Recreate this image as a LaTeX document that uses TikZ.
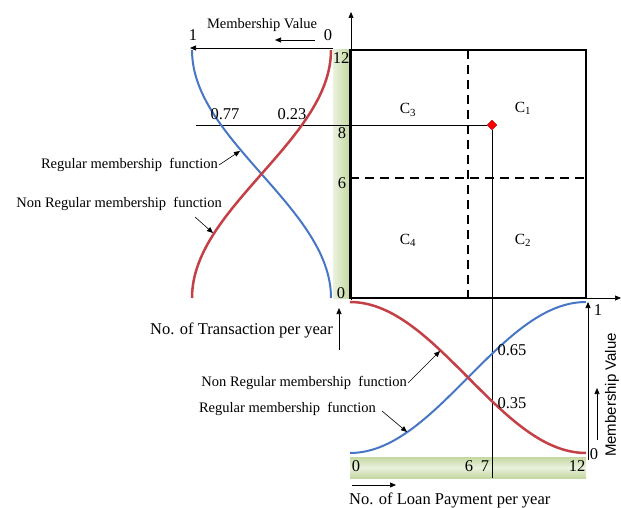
\documentclass[tikz,border=0pt]{standalone}
\usepackage{fontspec}
\setmainfont{Liberation Serif}
\setsansfont{Liberation Sans}
\usetikzlibrary{arrows.meta,shapes.geometric}
\definecolor{mfblue}{RGB}{70,118,196}
\definecolor{mfred}{RGB}{196,64,70}
\definecolor{band}{RGB}{196,216,160}

\begin{document}
\begin{tikzpicture}[x=1pt, y=-1pt, font=\fontsize{16.5}{18}\selectfont,
  >={Triangle[length=6pt,width=5pt]},
  num/.style={inner sep=1pt},
  lbl/.style={font=\fontsize{14.5}{16}\selectfont, inner sep=1pt},
  cls/.style={font=\fontsize{15.5}{17}\selectfont, inner sep=1pt},
  mfb/.style={mfblue, line width=2pt},
  mfr/.style={mfred, line width=2.5pt},
  gridline/.style={line width=2.6pt, dash pattern=on 9pt off 6pt},
  ptr/.style={->, line width=0.6pt}]
  \useasboundingbox (0,0) rectangle (621,508);

  % corner points of the square
  \coordinate (o) at (350,298);
  \coordinate (tl) at (350,50);
  \coordinate (br) at (586,298);
  \coordinate (tr) at (586,50);

  % green scales
  \shade[left color=band!35, right color=band] (333,50) rectangle (350,298);
  \shade[top color=band, bottom color=band, middle color=band!35] (350,457) rectangle (586,478);

  % axes
  \coordinate (ytop) at (351,12);
  \coordinate (xend) at (621,298);
  \draw[->, line width=0.7pt] (351,300) -- (ytop);
  \draw[->, line width=0.7pt] (o) -- (xend);
  \draw[line width=2.8pt] (o) rectangle (tr);

  % quadrant borders
  \draw[gridline] (468,50) -- (468,298);
  \draw[gridline] (350,178) -- (586,178);

  % example point (7,8)
  \node[diamond, fill=red, draw=red!70!black, line width=0.3pt, minimum size=10pt, inner sep=0pt] (pt) at (492,125) {};
  \coordinate (hstart) at (196,125);
  \coordinate (vend) at (492,478);
  \draw[line width=0.6pt] (hstart) -- (pt);
  \draw[line width=0.6pt] (pt) -- (vend);

  \node[cls] (c3) at (408,110) {C\textsubscript{3}};
  \node[cls] (c1) at (523,108) {C\textsubscript{1}};
  \node[cls] (c4) at (408,240) {C\textsubscript{4}};
  \node[cls] (c2) at (523,240) {C\textsubscript{2}};

  % left membership functions
  \draw[mfb] plot[domain=0:1, samples=60, smooth] ({331-139*(1-cos(180*\x))/2}, {298-248*\x});
  \draw[mfr] plot[domain=0:1, samples=60, smooth] ({331-139*(1+cos(180*\x))/2}, {298-248*\x});

  % bottom membership functions
  \draw[mfb] plot[domain=0:1, samples=60, smooth] ({350+236*\x}, {453-151*(1-cos(180*\x))/2});
  \draw[mfr] plot[domain=0:1, samples=60, smooth] ({350+236*\x}, {453-151*(1+cos(180*\x))/2});

  % membership axis top
  \coordinate (mt0) at (333,48);
  \coordinate (mt1) at (190,48);
  \draw[->, line width=0.7pt] (mt0) -- (mt1);
  \node[num] (one1) at (193,35) {1};
  \node[num] (zero1) at (328,35) {0};
  \node[lbl] (mvtop) at (262,25) {Membership Value};
  \coordinate (sa1) at (315,40);
  \coordinate (sa2) at (275,40);
  \draw[->, line width=0.7pt] (sa1) -- (sa2);

  % membership axis right
  \coordinate (mr0) at (588,460);
  \coordinate (mr1) at (588,302);
  \draw[->, line width=0.7pt] (mr0) -- (mr1);
  \node[num] (one2) at (598,310) {1};
  \node[num] (zero2) at (594,454) {0};
  \node[font=\sffamily\fontsize{15}{16}\selectfont, rotate=90, inner sep=1pt] (mvright) at (612,395) {Membership Value};
  \coordinate (sb1) at (597,440);
  \coordinate (sb2) at (597,388);
  \draw[->, line width=0.7pt] (sb1) -- (sb2);

  % scale numbers
  \node[num] (y12) at (341,58) {12};
  \node[num] (y8) at (342,133) {8};
  \node[num] (y6) at (342,183) {6};
  \node[num] (y0) at (341,293) {0};
  \node[num] (x0) at (356,466) {0};
  \node[num] (x6) at (469,466) {6};
  \node[num] (x7) at (485,466) {7};
  \node[num] (x12) at (577,466) {12};

  \node[num] (v77) at (225,114) {0.77};
  \node[num] (v23) at (292,114) {0.23};
  \node[num] (v65) at (512,350) {0.65};
  \node[num] (v35) at (512,403) {0.35};

  % axis titles
  \node[anchor=east, inner sep=1pt] (ytitle) at (334,330) {No. of Transaction per year};
  \coordinate (sc1) at (339,350);
  \coordinate (sc2) at (339,308);
  \draw[->, line width=0.7pt] (sc1) -- (sc2);
  \node[anchor=west, inner sep=1pt] (xtitle) at (348,500) {No. of Loan Payment per year};
  \coordinate (sd1) at (352,485);
  \coordinate (sd2) at (396,485);
  \draw[->, line width=0.7pt] (sd1) -- (sd2);

  % curve labels
  \node[lbl, anchor=east] (regL) at (219,165) {Regular membership\ \ function};
  \node[lbl, anchor=east] (nregL) at (223,204) {Non Regular membership\ \ function};
  \coordinate (regLtip) at (240,151);
  \coordinate (nregLs) at (195,217);
  \coordinate (nregLtip) at (213,233);
  \draw[ptr] (regL.east) -- (regLtip);
  \draw[ptr] (nregLs) -- (nregLtip);

  \node[lbl, anchor=east] (nregB) at (408,383) {Non Regular membership\ \ function};
  \node[lbl, anchor=east] (regB) at (377,409) {Regular membership\ \ function};
  \coordinate (nregBtip) at (440,351);
  \coordinate (regBs) at (382,411);
  \coordinate (regBtip) at (407,432);
  \draw[ptr] (nregB.east) -- (nregBtip);
  \draw[ptr] (regBs) -- (regBtip);
\end{tikzpicture}
\end{document}
